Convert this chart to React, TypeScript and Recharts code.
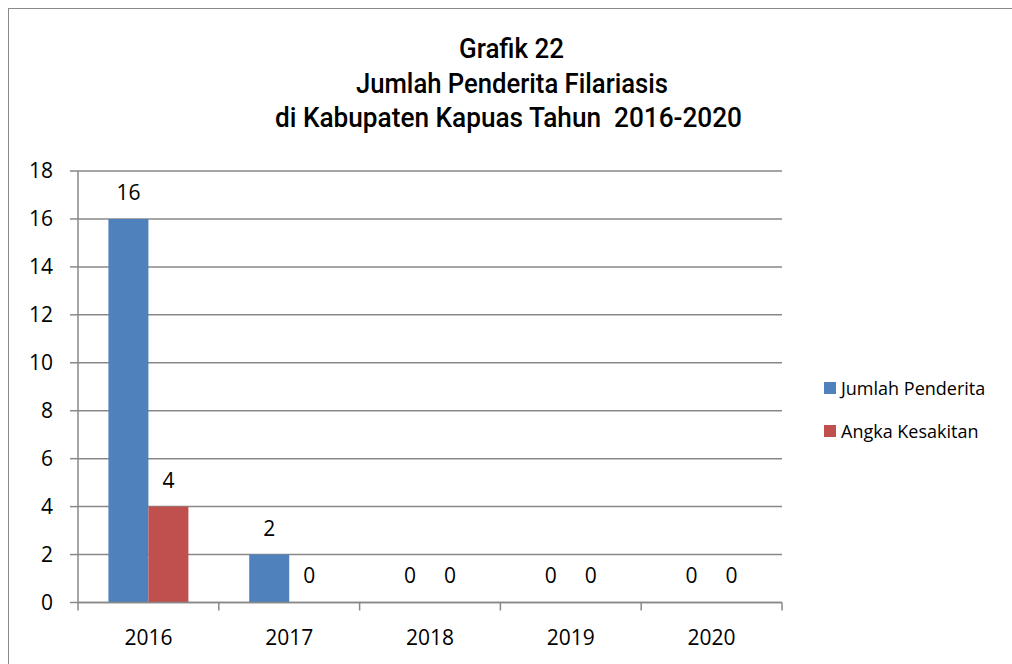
import React from "react";
import { BarChart, Bar, XAxis, YAxis, CartesianGrid, LabelList } from "recharts";

const categories = ["2016", "2017", "2018", "2019", "2020"];
const jumlahPenderita = [16, 2, 0, 0, 0];
const angkaKesakitan = [4, 0, 0, 0, 0];
const yTicks = [0, 2, 4, 6, 8, 10, 12, 14, 16, 18];
const titleLines = ["Grafik 22", "Jumlah Penderita Filariasis", "di Kabupaten Kapuas Tahun  2016-2020"];
const seriesNames = ["Jumlah Penderita", "Angka Kesakitan"];
const seriesColors = ["#4F81BD", "#C0504D"];

const data = categories.map((c, i) => ({
  year: c,
  jumlah: jumlahPenderita[i],
  angka: angkaKesakitan[i],
}));

const FONT = "'Open Sans', 'DejaVu Sans', sans-serif";
const GRID = "#888888";
const CHART_W = 1003;
const CHART_H = 655;
const MARGIN = { top: 162, right: 230, bottom: 21.5, left: 0 };
const X_TICK_SIZE = 8;
const X_TICK_MARGIN = 19;
const TICK_FS = 21;

// title layout (page coords minus 9px container offset)
const titleCenters = [502.5, 503, 499.5];
const titleBaselines = [49.3, 84.3, 117.7];
const titleWidths = [105, 312, 467];

const XTick = (props: any) => {
  const { x, y, payload, index, visibleTicksCount } = props;
  const half =
    payload && typeof payload.offset === "number" && payload.offset > 0
      ? payload.offset
      : (CHART_W - MARGIN.left - MARGIN.right - 69) / categories.length / 2;
  const axisY = y - X_TICK_SIZE - X_TICK_MARGIN;
  const count = visibleTicksCount ?? categories.length;
  return (
    <g>
      <line x1={x - half} x2={x - half} y1={axisY} y2={axisY + 8} stroke={GRID} strokeWidth={1.5} />
      {index === count - 1 && (
        <line x1={x + half} x2={x + half} y1={axisY} y2={axisY + 8} stroke={GRID} strokeWidth={1.5} />
      )}
      <text x={x} y={axisY + 42} textAnchor="middle" fontFamily={FONT} fontSize={TICK_FS} fill="#000">
        {payload.value}
      </text>
    </g>
  );
};

const ValueLabel = (props: any) => {
  const { x, y, width, value } = props;
  if (x == null || y == null || width == null) return null;
  return (
    <text
      x={Number(x) + Number(width) / 2}
      y={Number(y) - 19}
      textAnchor="middle"
      fontFamily={FONT}
      fontSize={TICK_FS}
      fill="#000"
    >
      {String(value ?? 0)}
    </text>
  );
};

export default function App() {
  return (
    <div
      style={{
        position: "relative",
        boxSizing: "border-box",
        width: 1004,
        height: 656,
        marginTop: -0,
        borderTop: "1px solid #8a8a8a",
        borderLeft: "1px solid #8a8a8a",
        background: "#fff",
        overflow: "hidden",
      }}
    >
      <style>{"html,body{overflow:hidden;margin:0;padding:0}#root{padding:8px 0 0 8px;width:1004px;height:656px}"}</style>
      <svg width={1003} height={140} style={{ position: "absolute", left: 0, top: 0 }}>
        {titleLines.map((t, i) => (
          <text
            key={i}
            x={titleCenters[i]}
            y={titleBaselines[i]}
            textAnchor="middle"
            fontFamily="Roboto, 'Liberation Sans', sans-serif"
            fontWeight={500}
            fontSize={28}
            textLength={titleWidths[i]}
            lengthAdjust="spacingAndGlyphs"
            fill="#000"
            style={{ whiteSpace: "pre" }}
          >
            {t}
          </text>
        ))}
      </svg>
      <BarChart
        width={CHART_W}
        height={CHART_H}
        data={data}
        margin={MARGIN}
        barCategoryGap="21.6%"
        barGap={0}
        style={{ position: "absolute", left: 0, top: 0 }}
      >
        <CartesianGrid horizontal vertical={false} stroke={GRID} strokeWidth={1.5} />
        <XAxis
          dataKey="year"
          tickLine={false}
          tickSize={X_TICK_SIZE}
          tickMargin={X_TICK_MARGIN}
          axisLine={{ stroke: GRID, strokeWidth: 1.5 }}
          tick={<XTick />}
          height={40}
          interval={0}
        />
        <YAxis
          width={69}
          domain={[0, 18]}
          ticks={yTicks}
          interval={0}
          tickSize={8}
          tickMargin={17}
          tickLine={{ stroke: GRID, strokeWidth: 1.5 }}
          axisLine={{ stroke: GRID, strokeWidth: 1.5 }}
          tick={{ fontFamily: FONT, fontSize: TICK_FS, fill: "#000" }}
        />
        <Bar
          dataKey="jumlah"
          name={seriesNames[0]}
          fill={seriesColors[0]}
          minPointSize={0.01}
          isAnimationActive={false}
        >
          <LabelList dataKey="jumlah" content={<ValueLabel />} />
        </Bar>
        <Bar
          dataKey="angka"
          name={seriesNames[1]}
          fill={seriesColors[1]}
          minPointSize={0.01}
          isAnimationActive={false}
        >
          <LabelList dataKey="angka" content={<ValueLabel />} />
        </Bar>
      </BarChart>
      <div
        style={{
          position: "absolute",
          left: 815,
          top: 366,
          fontFamily: FONT,
          fontSize: 18,
          color: "#000",
        }}
      >
        {seriesNames.map((n, i) => (
          <div key={n} style={{ display: "flex", alignItems: "center", height: 26, marginBottom: i === 0 ? 17 : 0 }}>
            <span
              style={{
                display: "inline-block",
                width: 12,
                height: 12,
                background: seriesColors[i],
                marginRight: 5,
              }}
            />
            <span>{n}</span>
          </div>
        ))}
      </div>
    </div>
  );
}
